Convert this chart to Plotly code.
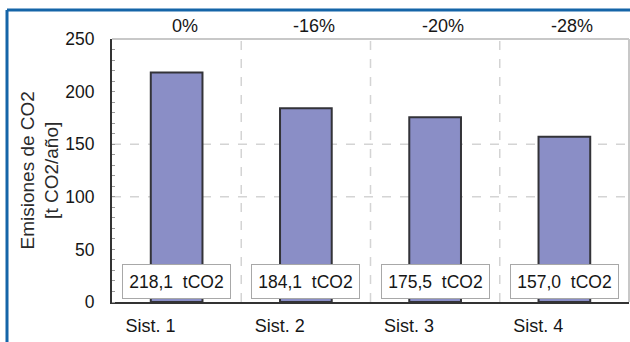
import plotly.graph_objects as go

# Emisiones anuales de CO2 por sistema
sistemas = ["Sist. 1", "Sist. 2", "Sist. 3", "Sist. 4"]
emisiones = [218.1, 184.1, 175.5, 157.0]
reduccion = ["0%", "-16%", "-20%", "-28%"]
etiquetas = ["218,1  tCO2", "184,1  tCO2", "175,5  tCO2", "157,0  tCO2"]
y_ticks = [0, 50, 100, 150, 200, 250]
grid_h = [100, 150]

W, H = 630, 342
ML, MR, MT, MB = 112, 1, 39, 40
PW, PH = W - ML - MR, H - MT - MB


def px(x):
    return (x - ML) / PW


def py(y):
    return (H - MB - y) / PH


FONT = "Liberation Sans, Arial, sans-serif"
TXT = "#161616"

fig = go.Figure(
    go.Bar(
        x=sistemas,
        y=emisiones,
        width=0.4,
        marker=dict(color="#8a8ec6", line=dict(color="#333338", width=2)),
        hoverinfo="skip",
    )
)

shapes = []
# dashed grid: horizontal at selected values, vertical between systems
for v in grid_h:
    shapes.append(dict(type="line", xref="paper", yref="y", x0=0, x1=1, y0=v, y1=v,
                       line=dict(color="#d4d4d4", width=1.5, dash="dash"), layer="below"))
for i in range(len(sistemas) - 1):
    shapes.append(dict(type="line", xref="x", yref="paper", x0=i + 0.5, x1=i + 0.5, y0=0, y1=1,
                       line=dict(color="#d4d4d4", width=1.5, dash="dash"), layer="below"))
# light top/right frame of the plot area
shapes.append(dict(type="line", xref="paper", yref="paper", x0=0, x1=1, y0=1, y1=1,
                   line=dict(color="#c8c8c8", width=2)))
shapes.append(dict(type="line", xref="paper", yref="paper", x0=1, x1=1, y0=0, y1=1,
                   line=dict(color="#c8c8c8", width=2)))
# blue outer frame
shapes.append(dict(type="line", xref="paper", yref="paper", x0=px(7), x1=px(640), y0=py(10), y1=py(10),
                   line=dict(color="#1565a8", width=3)))
shapes.append(dict(type="line", xref="paper", yref="paper", x0=px(7), x1=px(7), y0=py(10), y1=py(350),
                   line=dict(color="#1565a8", width=3)))

annotations = []
for s, r, lab in zip(sistemas, reduccion, etiquetas):
    annotations.append(dict(x=s, y=1, xref="x", yref="paper", text=r, showarrow=False,
                            yanchor="bottom", yshift=1, xshift=8,
                            font=dict(family=FONT, size=18, color=TXT)))
    annotations.append(dict(x=s, y=19.5, xref="x", yref="y", text=lab, showarrow=False,
                            width=103, height=29, borderpad=2, bgcolor="white",
                            bordercolor="#a8a8a8", borderwidth=1,
                            font=dict(family=FONT, size=17.5, color=TXT)))
annotations.append(dict(x=0, y=0.5, xref="paper", yref="paper", xshift=-73,
                        text="Emisiones de CO2<br>[t CO2/año]", textangle=-90,
                        showarrow=False, xanchor="center", yanchor="middle",
                        font=dict(family=FONT, size=19, color="#2a2a2a")))

fig.update_layout(
    width=W, height=H,
    margin=dict(l=ML, r=MR, t=MT, b=MB),
    paper_bgcolor="white", plot_bgcolor="white",
    showlegend=False,
    shapes=shapes,
    annotations=annotations,
    bargap=0.6,
    xaxis=dict(
        showgrid=False, zeroline=False, showline=True, linecolor="#333333", linewidth=2,
        ticks="", ticklabelshift=-26, ticklabelstandoff=6,
        tickfont=dict(family=FONT, size=18, color=TXT),
    ),
    yaxis=dict(
        range=[0, 250], tickvals=y_ticks, showgrid=False, zeroline=False,
        showline=True, linecolor="#333333", linewidth=2,
        ticks="", ticklabelstandoff=12,
        tickfont=dict(family=FONT, size=17.5, color=TXT),
        minor=dict(ticks="inside", dtick=10, ticklen=3, tickcolor="#9a9a9a", showgrid=False),
    ),
)

fig.write_html("out.html")
